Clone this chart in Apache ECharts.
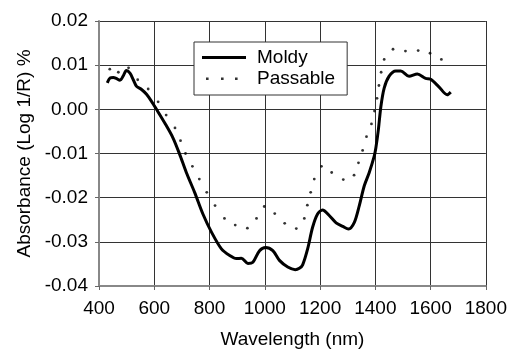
<!DOCTYPE html>
<html>
<head>
<meta charset="utf-8">
<script src="https://cdn.jsdelivr.net/npm/echarts@6/dist/echarts.min.js"></script>
<style>html,body{margin:0;padding:0;background:#fff}#c{width:510px;height:354px}</style>
</head>
<body>
<div id="c"></div>
<script>
// Moldy (solid line)
var moldyWl  = [430,440,452,462,476,488,499,512,524,536,554,572,590,608,638,668,692,716,746,776,807,843,873,897,915,939,957,981,1003,1029,1053,1083,1110,1125,1137,1155,1173,1191,1209,1234,1258,1282,1303,1324,1342,1360,1378,1396,1402,1411,1420,1432,1450,1474,1492,1522,1552,1582,1600,1630,1660,1673];
var moldyAbs = [0.0060,0.0071,0.0072,0.0070,0.0066,0.0076,0.0088,0.0082,0.0067,0.0052,0.0045,0.0034,0.0018,0.0000,-0.0031,-0.0065,-0.0102,-0.0143,-0.0188,-0.0237,-0.0278,-0.0316,-0.0331,-0.0338,-0.0337,-0.0349,-0.0346,-0.0320,-0.0313,-0.0320,-0.0342,-0.0357,-0.0363,-0.0360,-0.0352,-0.0316,-0.0267,-0.0237,-0.0228,-0.0241,-0.0257,-0.0265,-0.0271,-0.0256,-0.0218,-0.0173,-0.0143,-0.0106,-0.0087,-0.0046,0.0006,0.0048,0.0075,0.0087,0.0087,0.0075,0.0080,0.0070,0.0068,0.0051,0.0033,0.0039];
// Passable (dotted)
var passWl  = [439,470,507,540,578,614,643,675,695,713,738,763,790,820,854,893,937,970,998,1036,1072,1114,1143,1154,1166,1179,1205,1242,1284,1323,1339,1354,1368,1386,1397,1406,1413,1421,1432,1464,1509,1555,1598,1639];
var passAbs = [0.0091,0.0084,0.0094,0.0067,0.0046,0.0017,-0.0013,-0.0042,-0.0071,-0.0100,-0.0129,-0.0158,-0.0188,-0.0218,-0.0247,-0.0262,-0.0269,-0.0247,-0.0220,-0.0236,-0.0258,-0.0270,-0.0247,-0.0217,-0.0188,-0.0158,-0.0129,-0.0143,-0.0159,-0.0149,-0.0121,-0.0093,-0.0062,-0.0033,-0.0004,0.0025,0.0054,0.0084,0.0113,0.0136,0.0132,0.0133,0.0127,0.0113];
var seriesNames = ['Moldy','Passable'];
var xTitle = 'Wavelength (nm)';
var yTitle = 'Absorbance (Log 1/R) %';

function pairs(a,b){var r=[];for(var i=0;i<a.length;i++)r.push([a[i],b[i]]);return r;}
var FONT = 'Liberation Sans, Arial, sans-serif';
var FS = 19;
var chart = echarts.init(document.getElementById('c'), null, {renderer:'canvas'});
chart.setOption({
  animation:false,
  backgroundColor:'#fff',
  textStyle:{fontFamily:FONT,color:'#000'},
  grid:{left:99,top:21,right:23,bottom:66,containLabel:false},
  legend:{
    orient:'vertical', left:194, top:42,
    padding:[6,12,7,8], itemGap:2,
    itemWidth:44, itemHeight:14,
    borderColor:'#333', borderWidth:1, backgroundColor:'#fff',
    textStyle:{fontFamily:FONT,fontSize:FS,color:'#000',padding:[0,0,0,6]},
    data:[
      {name:seriesNames[0], icon:'path://M0,0M44,14M0,5.5h44v3h-44z'},
      {name:seriesNames[1], icon:'path://M0,0M44,14M4,6h2.6v2.6h-2.6zM19,6h2.6v2.6h-2.6zM33,6h2.6v2.6h-2.6z'}
    ]
  },
  xAxis:{
    type:'value', min:400, max:1800, interval:200,
    name:xTitle, nameLocation:'middle', nameGap:44,
    nameTextStyle:{fontFamily:FONT,fontSize:FS,color:'#000'},
    axisLine:{show:true,onZero:false,lineStyle:{color:'#888',width:2}},
    axisTick:{show:true,length:4,lineStyle:{color:'#666'}},
    axisLabel:{fontFamily:FONT,fontSize:FS,color:'#000',margin:13,
      formatter:function(v){return String(v);}},
    splitLine:{show:true,lineStyle:{color:'#333',width:1}}
  },
  yAxis:{
    type:'value', min:-0.04, max:0.02, interval:0.01,
    name:yTitle, nameLocation:'middle', nameGap:64, nameRotate:90,
    nameTextStyle:{fontFamily:FONT,fontSize:FS,color:'#000'},
    axisLine:{show:true,onZero:false,lineStyle:{color:'#888',width:2}},
    axisTick:{show:true,length:4,lineStyle:{color:'#666'}},
    axisLabel:{fontFamily:FONT,fontSize:FS,color:'#000',margin:11,
      formatter:function(v){return v.toFixed(2);}},
    splitLine:{show:true,lineStyle:{color:'#333',width:1}}
  },
  series:[
    {name:seriesNames[0], type:'line', data:pairs(moldyWl,moldyAbs),
     showSymbol:false, symbol:'none', smooth:0.3,
     lineStyle:{color:'#000',width:3}, itemStyle:{color:'#000'}, z:3},
    {name:seriesNames[1], type:'scatter', data:pairs(passWl,passAbs),
     symbol:'circle', symbolSize:2.8, itemStyle:{color:'#000'}, z:2}
  ]
});
</script>
</body>
</html>
